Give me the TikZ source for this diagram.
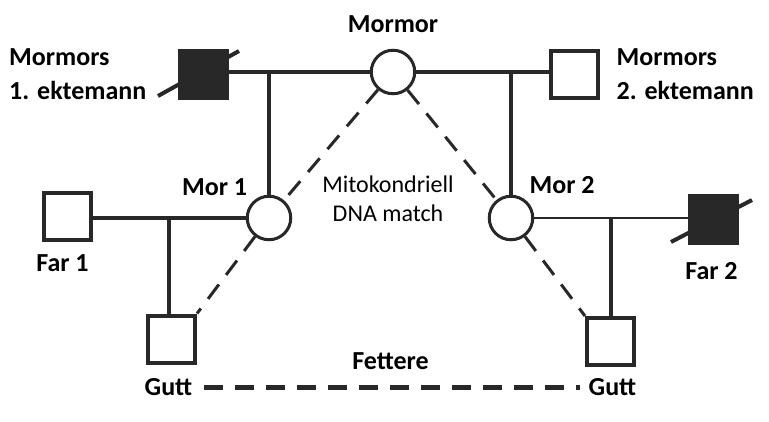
\documentclass[tikz,border=0pt]{standalone}
\usepackage{fontspec}
\setmainfont{Carlito}
\usepackage{tikz}
\usetikzlibrary{positioning}
\definecolor{ink}{HTML}{282828}
\tikzstyle{male} = [rectangle, draw=ink, line width=4pt, minimum size=47pt, inner sep=0pt, fill=white]
\tikzstyle{male_dead} = [male, fill=ink]
\tikzstyle{female} = [circle, draw=ink, line width=3pt, minimum size=43.5pt, inner sep=0pt, fill=white]
\tikzstyle{bond} = [draw=ink, line width=4pt]
\tikzstyle{bond_thin} = [draw=ink, line width=2.8pt]
\tikzstyle{dna} = [draw=ink, line width=3pt, dash pattern=on 18pt off 12pt]
\tikzstyle{cousin} = [draw=ink, line width=4.5pt, dash pattern=on 19pt off 12pt]
\tikzstyle{slash} = [draw=ink, line width=4pt]
\tikzstyle{lbl} = [font=\fontsize{26}{34}\selectfont\bfseries, inner sep=0pt]
\tikzstyle{note} = [font=\fontsize{24}{29}\selectfont, inner sep=0pt, align=center]

\begin{document}
\begin{tikzpicture}[x=1pt, y=-1pt]
        \useasboundingbox (0,0) rectangle (769,421);

        \node (mormor) [female] at (393,72) {};
        \node (ekte1) [male_dead] at (203,74) {};
        \node (ekte2) [male] at (574,74.5) {};
        \node (mor1) [female] at (269,218) {};
        \node (mor2) [female] at (511,218) {};
        \node (far1) [male] at (67.5,216) {};
        \node (far2) [male_dead] at (713.5,219.5) {};
        \node (gutt1) [male] at (171.5,339) {};
        \node (gutt2) [male] at (610.5,341.5) {};

        % mitochondrial line
        \draw [dna] (mormor) -- (mor1);
        \draw [dna] (mormor) -- (mor2);
        \draw [dna] (mor1) -- (gutt1.north east);
        \draw [dna] (mor2) -- (gutt2.north west);

        \draw [bond] (ekte1.east |- mormor.west) -- (mormor.west);
        \draw [bond] (mormor.east) -- (ekte2.west |- mormor.east);
        \draw [bond] (mor1.north) -- (mor1.north |- mormor.center);
        \draw [bond] (mor2.north) -- (mor2.north |- mormor.center);

        \draw [bond] (far1.east |- mor1.west) -- (mor1.west);
        \draw [bond_thin] (mor2.east) -- (far2.west |- mor2.east);
        \draw [bond] ([xshift=-2.5pt]gutt1.north) -- ([xshift=-2.5pt]gutt1.north |- mor1.center);
        \draw [bond] (gutt2.north) -- (gutt2.north |- mor2.center);

        \draw [slash] ([shift={(-45,22)}]ekte1.center) -- ([shift={(36,-23)}]ekte1.center);
        \draw [slash] ([shift={(-42.5,22.5)}]far2.center) -- ([shift={(38.5,-19.5)}]far2.center);

        \node (mormor_lbl) [lbl, above=15.5pt of mormor] {Mormor};
        \node (ekte1_lbl) [lbl, left=31pt of ekte1, align=left] {Mormors\\1. ektemann};
        \node (ekte2_lbl) [lbl, right=17pt of ekte2, align=left] {Mormors\\2. ektemann};
        \node (mor1_lbl) [lbl, above left=7.5pt of mor1] {Mor 1};
        \node (mor2_lbl) [lbl, above right=8pt and 2pt of mor2] {Mor 2};
        \node (far1_lbl) [lbl, below=13pt of far1, xshift=-5pt] {Far 1};
        \node (far2_lbl) [lbl, below=17pt of far2, xshift=-2pt] {Far 2};
        \node (gutt1_lbl) [lbl, below=14pt of gutt1, xshift=-3pt] {Gutt};
        \node (gutt2_lbl) [lbl, below=11pt of gutt2, xshift=2pt] {Gutt};

        \node (dna_note) [note] at (388,199) {Mitokondriell\\DNA match};

        \draw [cousin, shorten <=12pt, shorten >=9pt] (gutt1_lbl.east) -- node[lbl, midway, above=15pt] {Fettere} (gutt2_lbl.west |- gutt1_lbl.east);

    \end{tikzpicture}
\end{document}
